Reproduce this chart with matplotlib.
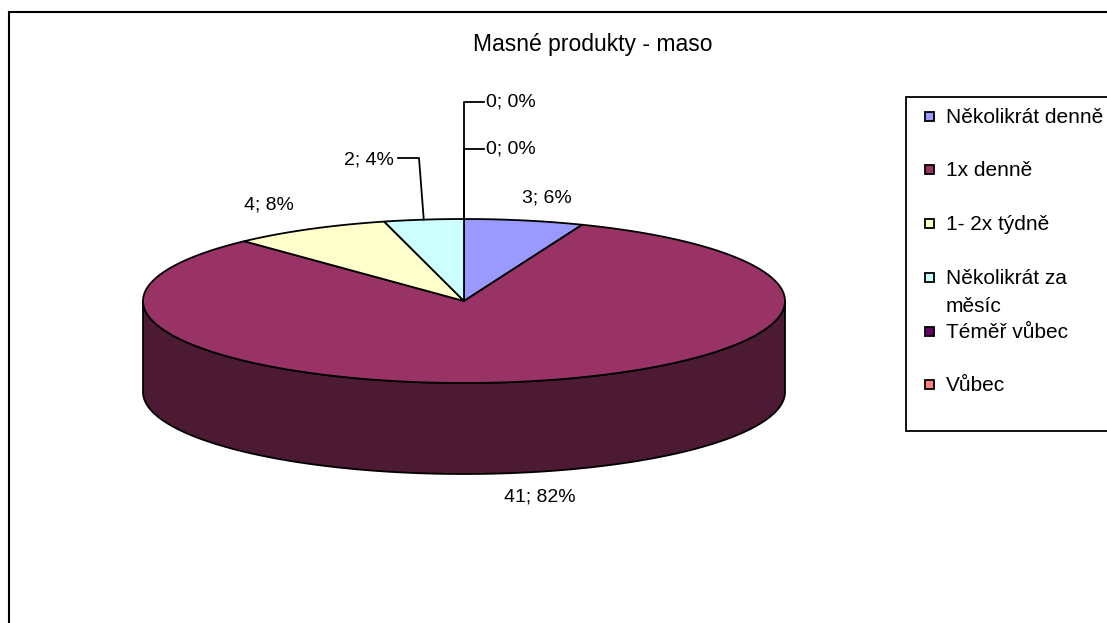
import matplotlib.pyplot as plt
from matplotlib.patches import Polygon, Rectangle
import numpy as np

plt.rcParams['font.family'] = ['Liberation Sans', 'DejaVu Sans']

# data
categories = ['Několikrát denně', '1x denně', '1- 2x týdně', 'Několikrát za\nměsíc', 'Téměř vůbec', 'Vůbec']
counts = [3, 41, 4, 2, 0, 0]
colors = ['#9999FF', '#993366', '#FFFFCC', '#CCFFFF', '#660066', '#FF8080']
title = 'Masné produkty - maso'

W, H = 1107, 623
fig = plt.figure(figsize=(W / 100, H / 100), dpi=100)
ax = fig.add_axes([0, 0, 1, 1])
ax.set_xlim(0, W)
ax.set_ylim(H, 0)
ax.axis('off')

# pie geometry (pixels, y down)
cx, cy = 464, 301
rx, ry = 321, 82
depth = 91


def pt(t, dy=0):
    # t: degrees clockwise from 12 o'clock
    r = np.radians(t)
    return cx + rx * np.sin(r), cy - ry * np.cos(r) + dy


def darker(c):
    c = c.lstrip('#')
    rgb = [int(c[i:i + 2], 16) / 255 * 0.5 for i in (0, 2, 4)]
    return tuple(rgb)


total = sum(counts)
bounds = np.concatenate([[0], np.cumsum(counts)]) / total * 360

# side walls (front half only, 90..270 deg)
for i in range(len(counts)):
    a0, a1 = bounds[i], bounds[i + 1]
    s0, s1 = max(a0, 90), min(a1, 270)
    if s1 <= s0:
        continue
    ts = np.linspace(s0, s1, 200)
    top = [pt(t) for t in ts]
    bot = [pt(t, depth) for t in ts[::-1]]
    ax.add_patch(Polygon(top + bot, closed=True, facecolor=darker(colors[i]),
                         edgecolor='black', lw=1.3, joinstyle='round'))

# top faces
for i in range(len(counts)):
    a0, a1 = bounds[i], bounds[i + 1]
    if a1 - a0 <= 0:
        continue
    ts = np.linspace(a0, a1, 300)
    verts = [(cx, cy)] + [pt(t) for t in ts]
    ax.add_patch(Polygon(verts, closed=True, facecolor=colors[i],
                         edgecolor='black', lw=1.3, joinstyle='round'))

# data labels
fs = 14
lab = ['%d; %d%%' % (c, round(c / total * 100)) for c in counts]
mids = (bounds[:-1] + bounds[1:]) / 2
ax.text(547, 198, lab[0], ha='center', va='center', fontsize=fs)
ax.text(540, 497, lab[1], ha='center', va='center', fontsize=fs)
ax.text(269, 205, lab[2], ha='center', va='center', fontsize=fs)

# 2; 4% with leader
lx, ly = pt(mids[3])
ax.plot([lx, 419, 398], [ly, 158, 158], color='black', lw=1.3)
ax.text(394, 160, lab[3], ha='right', va='center', fontsize=fs)

# zero slices with leaders
zx, zy = pt(bounds[4])
for k, yy in zip([4, 5], [102, 149]):
    ax.plot([zx, zx, zx + 20], [zy, yy, yy], color='black', lw=1.3)
    ax.text(zx + 22, yy, lab[k], ha='left', va='center', fontsize=fs)

# title
ax.text(473, 44, title, ha='left', va='center', fontsize=16.5)

# legend
ax.add_patch(Rectangle((906, 97), 300, 334, facecolor='white', edgecolor='black', lw=1.3))
ly_list = [116, 169, 223, 277, 331, 384]
for name, col, yy in zip(categories, colors, ly_list):
    ax.add_patch(Rectangle((925, yy - 4.5), 9, 9, facecolor=col, edgecolor='black', lw=1.3))
    lines = name.split('\n')
    for j, line in enumerate(lines):
        ax.text(946, yy + 7 + 28 * j, line, ha='left', va='baseline', fontsize=15)

# chart border
ax.plot([9, 9], [H, 12], color='black', lw=1.5, solid_capstyle='projecting')
ax.plot([9, W], [12, 12], color='black', lw=1.5, solid_capstyle='projecting')

fig.savefig('out.png', dpi=100)
